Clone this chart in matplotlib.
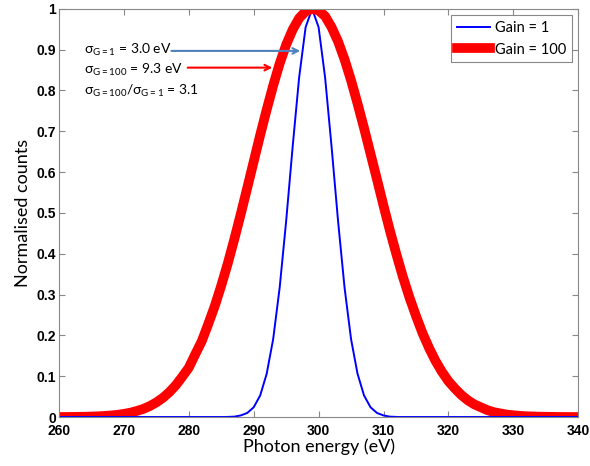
import numpy as np
import matplotlib
matplotlib.use("Agg")
import matplotlib.pyplot as plt

# photon energy grids (eV)
blue_energy = np.arange(286, 313, 1)
red_energy = np.arange(260, 341, 1)

# Gain = 1, normalised counts at 1 eV steps, 286..312
gain1 = [0.0004, 0.001, 0.004, 0.010, 0.024, 0.053, 0.106, 0.191, 0.317,
         0.480, 0.662, 0.832, 0.955, 1.000, 0.955, 0.832, 0.662, 0.480,
         0.317, 0.191, 0.106, 0.053, 0.024, 0.010, 0.004, 0.001, 0.0004]

# Gain = 100, normalised counts at 1 eV steps, 260..340
gain100 = [0.0002, 0.0002, 0.0004, 0.0006, 0.0008, 0.0013, 0.0019, 0.0027,
           0.0039, 0.0055, 0.0078, 0.0108, 0.015, 0.020, 0.027, 0.036,
           0.047, 0.061, 0.078, 0.099, 0.121, 0.154, 0.186, 0.228, 0.272,
           0.322, 0.376, 0.435, 0.497, 0.561, 0.626, 0.691, 0.753, 0.812,
           0.866, 0.912, 0.949, 0.977, 0.994, 1.000,
           0.996, 0.982, 0.955, 0.920, 0.876, 0.825, 0.768, 0.708, 0.645,
           0.582, 0.518, 0.456, 0.398, 0.343, 0.293, 0.248, 0.206, 0.170,
           0.138, 0.111, 0.088, 0.070, 0.054, 0.041, 0.031, 0.024, 0.017,
           0.012, 0.009, 0.006, 0.0045, 0.003, 0.002, 0.0015, 0.001, 0.0007,
           0.0005, 0.0003, 0.0002, 0.0001, 0.0001]

x_ticks = np.arange(260, 341, 10)
y_ticks = np.arange(0, 1.01, 0.1)

notes = [r"$\mathregular{σ_{G=1}}$ = 3.0 eV",
         r"$\mathregular{σ_{G=100}}$ = 9.3 eV",
         r"$\mathregular{σ_{G=100}/σ_{G=1}}$ = 3.1"]

plt.rcParams["font.family"] = ["Lato", "DejaVu Sans"]

fig = plt.figure(figsize=(5.9, 4.66), dpi=100)
ax = fig.add_axes([0.1, 0.105, 0.88, 0.876])

ax.plot(blue_energy, gain1, color="#0000ff", lw=1.4, label="Gain = 1")
ax.plot(red_energy, gain100, color="#ff0000", lw=7, label="Gain = 100",
        solid_joinstyle="round")

# zero baselines outside the blue peak
ax.plot([260, 286], [0, 0], color="#0000ff", lw=1.4)
ax.plot([312, 340], [0, 0], color="#0000ff", lw=1.4)

ax.set_xlim(260, 340)
ax.set_ylim(0, 1)
ax.set_xticks(x_ticks)
ax.set_yticks(y_ticks)
ax.set_xticklabels([str(v) for v in x_ticks])
ax.set_yticklabels(["0"] + ["%.1f" % v for v in y_ticks[1:-1]] + ["1"])
for lab in ax.get_xticklabels() + ax.get_yticklabels():
    lab.set_fontfamily("Liberation Sans")
    lab.set_fontweight("bold")
    lab.set_fontsize(10)
ax.tick_params(direction="in", top=True, right=True, length=4,
               color="#888888")
ax.tick_params(axis="x", pad=5)
ax.tick_params(axis="y", pad=2)
for s in ax.spines.values():
    s.set_color("#888888")

ax.set_xlabel("Photon energy (eV)", fontsize=13, labelpad=0)
ax.set_ylabel("Normalised counts", fontsize=13, labelpad=4)

for i, t in enumerate(notes):
    ax.text(263.9, 0.90 - 0.05 * i, t, fontsize=10, va="center")

ax.annotate("", xy=(297.6, 0.897), xytext=(276.9, 0.897),
            arrowprops=dict(arrowstyle="->", color="#4f81bd", lw=1.5))
ax.annotate("", xy=(293.3, 0.856), xytext=(279.4, 0.856),
            arrowprops=dict(arrowstyle="->", color="#ff0000", lw=1.5))

leg = ax.legend(loc="upper right", fontsize=10.5, fancybox=False,
                edgecolor="#888888", borderaxespad=0.45, handlelength=2.3,
                handletextpad=0.3, borderpad=0.4, framealpha=1)
leg.get_frame().set_linewidth(0.8)

fig.savefig("out.png", dpi=100)
